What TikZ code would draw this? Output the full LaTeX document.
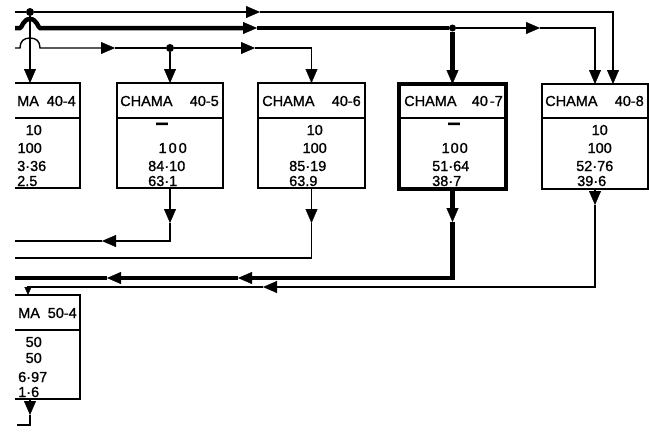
\documentclass[tikz,border=0pt]{standalone}
\usepackage{fontspec}
\setmainfont{Liberation Sans}[FakeBold=1]
\usetikzlibrary{arrows.meta}
\newcommand\fsz{\fontsize{14.5}{16}\selectfont}
\begin{document}
\begin{tikzpicture}[x=1pt,y=-1pt,
  thinw/.style={line width=1.4pt},
  thickw/.style={line width=4.5pt},
  arr/.style={-{Triangle[length=14pt,width=12pt,line width=0.3pt]}},
  sarr/.style={-{Triangle[length=8pt,width=7pt,line width=0.3pt]}},
  box/.style={draw, line width=1.2pt, inner sep=0pt, outer sep=0pt, anchor=north west, minimum width=106pt, minimum height=105pt},
  hbox/.style={box, line width=4pt, minimum width=107pt, minimum height=105pt},
  dot/.style={circle, fill, inner sep=0pt, minimum size=8pt},
  tw/.style={inner sep=0pt, font=\fsz, anchor=base west},
  te/.style={inner sep=0pt, font=\fsz, anchor=base east},
  tdash/.style={inner sep=0pt, font=\fsz, anchor=base, xscale=0.8, yscale=2.2, transform shape}]
\useasboundingbox (0,0) rectangle (649,437);
\fill[white] (0,0) rectangle (649,437);
\begin{scope}
\clip (15,0) rectangle (649,437);
% boxes
\node[box] (b404) at (-26,83) {};
\node[box] (b405) at (117,83) {};
\node[box, minimum width=107pt] (b406) at (258,83) {};
\node[hbox] (b407) at (399,84) {};
\node[box] (b408) at (542,84) {};
\node[box, minimum height=104pt] (b504) at (-26,295) {};
\coordinate (h1) at (0,118);
\coordinate (h2) at (0,330);
\foreach \b in {b404,b405,b406,b408}{\draw[line width=1.2pt] (\b.west |- h1) -- (\b.east |- h1);}
\draw[line width=1.2pt] (b407.west |- h1) -- (b407.east |- h1);
\draw[line width=1.2pt] (b504.west |- h2) -- (b504.east |- h2);
% titles
\node[tw] (t404a) at (17,106) {MA};
\node[te] (t404b) at (76,106) {40-4};
\node[tw] (t405a) at (120,106) {CHAMA};
\node[te] (t405b) at (219,106) {40-5};
\node[tw] (t406a) at (262,106) {CHAMA};
\node[te] (t406b) at (361,106) {40-6};
\node[tw] (t407a) at (404,106) {CHAMA};
\node[te] (t407b) at (503,106) {40\kern2pt-7};
\node[tw] (t408a) at (545,106) {CHAMA};
\node[te] (t408b) at (644,106) {40-8};
\node[tw] (t504a) at (18,318) {MA};
\node[te] (t504b) at (77,318) {50-4};
% values
\node[te] (v404a) at (42,135) {10};
\node[te] (v404b) at (42,153) {100};
\node[tw] (v404c) at (17,171) {3·36};
\node[tw] (v404d) at (17,186) {2.5};
\node[tdash] (v405a) at (162,132) {—};
\node[te] (v405b) at (187,153) {1\kern2pt0\kern2pt0};
\node[tw] (v405c) at (148,171) {84·10};
\node[tw] (v405d) at (148,186) {63·1};
\node[te] (v406a) at (323,135) {10};
\node[te] (v406b) at (327,153) {100};
\node[tw] (v406c) at (289,171) {85·19};
\node[tw] (v406d) at (289,186) {63.9};
\node[tdash] (v407a) at (454,132) {—};
\node[te] (v407b) at (468,153) {1\kern1pt0\kern1pt0};
\node[tw] (v407c) at (432,171) {51·64};
\node[tw] (v407d) at (432,186) {38·7};
\node[te] (v408a) at (608,135) {10};
\node[te] (v408b) at (612,153) {100};
\node[tw] (v408c) at (576,171) {52·76};
\node[tw] (v408d) at (577,186) {39·6};
\node[te] (v504a) at (42,347) {50};
\node[te] (v504b) at (42,363) {50};
\node[tw] (v504c) at (18,382) {6·97};
\node[tw] (v504d) at (18,397) {1·6};
% ---- top connectors
\coordinate (tl1) at (15,12);
\coordinate (tl2) at (15,28);
\coordinate (tl3) at (15,48);
\node[dot] (d1) at (30,12) {};
\node[dot] (d2) at (170,48) {};
\node[dot, minimum size=7pt] (d3) at (452.5,28) {};
\coordinate (m1) at (260,12);
\coordinate (k1) at (613,12);
\coordinate (m2) at (257,28);
\coordinate (m3) at (115,48);
\coordinate (m4) at (255,48);
\coordinate (k3) at (311.5,48);
\coordinate (m5) at (540,28);
\coordinate (k5) at (595,28);
% line 1 (thin, top)
\draw[thinw] (tl1) -- (d1);
\draw[thinw,arr] (d1) -- (m1);
\draw[thinw,arr] (m1) -- (k1) -- (k1 |- b408.north);
\draw[thinw,arr] (d1) -- (d1 |- b404.north);
% line 2 (thick) with hop
\draw[thickw,arr] (tl2) -- (20,28) .. controls (22,28) and (23,19) .. (30,19) .. controls (37,19) and (38,28) .. (40,28) -- (m2);
\draw[thickw] (m2) -- (d3);
\draw[thickw,arr] (d3) -- (d3 |- b407.north);
\draw[thinw,arr] (d3) -- (m5);
\draw[thinw,arr] (m5) -- (k5) -- (k5 |- b408.north);
% line 3 (thin) with hop
\draw[thinw,arr] (tl3) -- (20,48) .. controls (20,41) and (24,38) .. (30,38) .. controls (36,38) and (40,41) .. (40,48) -- (m3);
\draw[thinw] (m3) -- (d2);
\draw[thinw,arr] (d2) -- (d2 |- b405.north);
\draw[thinw,arr] (d2) -- (m4);
\draw[thinw,arr] (m4) -- (k3) -- (k3 |- b406.north);
% ---- bottom connectors
\coordinate (m6) at (170,223);
\coordinate (k6) at (170,241);
\coordinate (m7) at (102,241);
\coordinate (e6) at (15,241);
\draw[thinw,arr] (b405.south) -- (m6);
\draw[thinw,arr] (m6) -- (k6) -- (m7);
\draw[thinw] (m7) -- (e6);
\coordinate (m8) at (311.5,223);
\coordinate (k8) at (311.5,258);
\coordinate (e8) at (15,258);
\draw[thinw,arr] (b406.south) -- (m8);
\draw[thinw] (m8) -- (k8) -- (e8);
\coordinate (m9) at (452.5,222);
\coordinate (k9) at (452.5,278);
\coordinate (m10) at (238,278);
\coordinate (m11) at (107,278);
\coordinate (e9) at (15,278);
\draw[thickw,arr] (b407.south) -- (m9);
\draw[thickw,arr] (m9) -- (k9) -- (m10);
\draw[thickw,arr] (m10) -- (m11);
\draw[thickw] (m11) -- (e9);
\coordinate (m12) at (595,205);
\coordinate (k12) at (595,287);
\coordinate (m13) at (263,287);
\coordinate (k13) at (28,287);
\draw[thinw,arr] (b408.south) -- (m12);
\draw[thinw,arr] (m12) -- (k12) -- (m13);
\draw[thinw,sarr] (m13) -- (k13) -- (k13 |- b504.north);
\coordinate (o504) at (30,399);
\coordinate (m14) at (30,415);
\coordinate (k14) at (30,425);
\coordinate (e14) at (17,425);
\draw[thinw,arr] (o504) -- (m14);
\draw[thinw] (m14) -- (k14) -- (e14);
\end{scope}
\end{tikzpicture}
\end{document}
